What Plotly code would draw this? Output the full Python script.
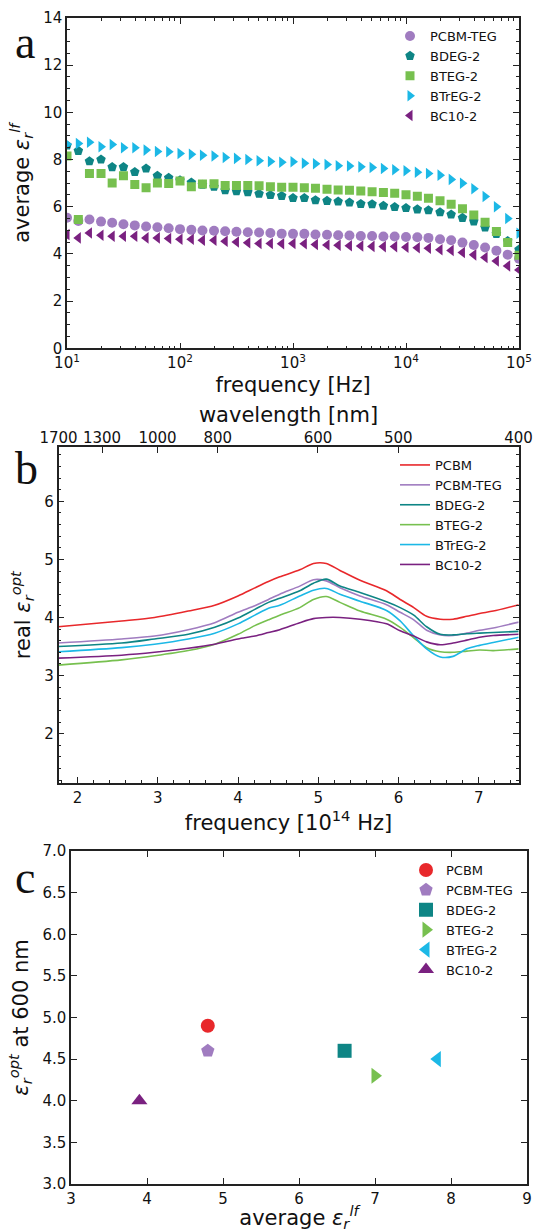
import plotly.graph_objects as go

W, H = 534, 1232

# ---------------- Panel a data ----------------
freq_hz = [10, 12.6, 15.8, 20.0, 25.1, 31.6, 39.8, 50.1, 63.1, 79.4,
           100, 126, 158, 200, 251, 316, 398, 501, 631, 794,
           1000, 1260, 1580, 2000, 2510, 3160, 3980, 5010, 6310, 7940,
           10000, 12600, 15800, 20000, 25100, 31600, 39800, 50100, 63100, 79400, 100000]

lf_pcbm_teg = [5.53, 5.40, 5.46, 5.37, 5.32, 5.26, 5.21, 5.16, 5.13, 5.09,
               5.05, 5.02, 4.99, 4.98, 4.96, 4.94, 4.92, 4.91, 4.89, 4.86,
               4.85, 4.85, 4.82, 4.81, 4.79, 4.78, 4.76, 4.76, 4.74, 4.74,
               4.72, 4.71, 4.68, 4.62, 4.58, 4.48, 4.38, 4.27, 4.14, 3.97, 3.80]
lf_bdeg2 = [8.60, 8.37, 7.93, 8.00, 7.68, 7.68, 7.47, 7.62, 7.31, 7.23,
            7.12, 7.03, 6.93, 6.85, 6.70, 6.66, 6.62, 6.55, 6.50, 6.46,
            6.37, 6.37, 6.28, 6.25, 6.22, 6.18, 6.12, 6.11, 6.04, 5.99,
            5.95, 5.89, 5.85, 5.77, 5.67, 5.53, 5.38, 5.12, 4.85, 4.55, 4.19]
lf_bteg2 = [8.15, 5.46, 7.41, 7.41, 7.01, 7.31, 6.94, 6.80, 7.01, 6.98,
            7.09, 6.85, 6.96, 6.97, 6.90, 6.90, 6.90, 6.89, 6.85, 6.83,
            6.83, 6.81, 6.78, 6.74, 6.71, 6.70, 6.67, 6.64, 6.60, 6.57,
            6.51, 6.44, 6.36, 6.25, 6.11, 5.91, 5.65, 5.34, 4.95, 4.48, 3.94]
lf_btreg2 = [8.65, 8.68, 8.73, 8.54, 8.64, 8.50, 8.50, 8.40, 8.34, 8.33,
             8.26, 8.22, 8.18, 8.15, 8.09, 8.05, 8.00, 7.95, 7.92, 7.89,
             7.91, 7.84, 7.82, 7.79, 7.74, 7.73, 7.69, 7.66, 7.62, 7.57,
             7.53, 7.46, 7.41, 7.34, 7.16, 7.00, 6.76, 6.43, 6.00, 5.50, 4.88]
lf_bc10_2 = [4.82, 4.68, 4.89, 4.79, 4.75, 4.75, 4.75, 4.68, 4.68, 4.65,
             4.62, 4.62, 4.58, 4.58, 4.54, 4.51, 4.47, 4.44, 4.44, 4.43,
             4.44, 4.43, 4.40, 4.38, 4.37, 4.35, 4.34, 4.32, 4.31, 4.31,
             4.28, 4.26, 4.24, 4.18, 4.15, 4.06, 3.96, 3.85, 3.70, 3.49, 3.32]

a_minor_ticks = [2, 3, 4, 5, 6, 7, 8, 9, 20, 30, 40, 50, 60, 70, 80, 90,
                 200, 300, 400, 500, 600, 700, 800, 900,
                 2000, 3000, 4000, 5000, 6000, 7000, 8000, 9000,
                 20000, 30000, 40000, 50000, 60000, 70000, 80000, 90000]
a_major_ticks = [10, 100, 1000, 10000, 100000]
a_major_text = ["10<sup>1</sup>", "10<sup>2</sup>", "10<sup>3</sup>", "10<sup>4</sup>", "10<sup>5</sup>"]

# ---------------- Panel b data ----------------
freq_opt = [1.76, 2.55, 2.96, 3.38, 3.71, 4.00, 4.21, 4.38, 4.52, 4.77, 4.94, 5.10,
            5.27, 5.52, 5.85, 6.02, 6.19, 6.35, 6.52, 6.68, 6.85, 7.01, 7.18, 7.50]
opt_pcbm = [3.84, 3.94, 4.00, 4.11, 4.21, 4.37, 4.51, 4.62, 4.70, 4.82, 4.93, 4.93,
            4.81, 4.64, 4.46, 4.31, 4.17, 4.02, 3.97, 3.97, 4.02, 4.07, 4.11, 4.22]
opt_pcbm_teg = [3.56, 3.63, 3.68, 3.79, 3.91, 4.09, 4.20, 4.31, 4.40, 4.54, 4.65, 4.63,
                4.51, 4.37, 4.22, 4.09, 3.96, 3.78, 3.70, 3.69, 3.73, 3.78, 3.82, 3.92]
opt_bdeg2 = [3.50, 3.56, 3.63, 3.71, 3.83, 3.99, 4.14, 4.26, 4.33, 4.46, 4.59, 4.66,
             4.54, 4.43, 4.27, 4.17, 4.04, 3.84, 3.71, 3.70, 3.72, 3.73, 3.74, 3.76]
opt_bteg2 = [3.18, 3.27, 3.34, 3.43, 3.54, 3.71, 3.86, 3.96, 4.04, 4.17, 4.31, 4.36,
             4.26, 4.11, 3.97, 3.83, 3.65, 3.48, 3.41, 3.40, 3.42, 3.44, 3.43, 3.46]
opt_btreg2 = [3.41, 3.48, 3.54, 3.63, 3.73, 3.89, 4.04, 4.16, 4.21, 4.37, 4.47, 4.50,
              4.40, 4.28, 4.12, 3.94, 3.68, 3.46, 3.32, 3.33, 3.46, 3.52, 3.57, 3.66]
opt_bc10_2 = [3.30, 3.35, 3.40, 3.47, 3.54, 3.63, 3.68, 3.74, 3.79, 3.91, 3.98, 4.00,
              4.00, 3.97, 3.89, 3.77, 3.68, 3.58, 3.53, 3.56, 3.61, 3.66, 3.69, 3.71]
wl_ticks_nm = [1700, 1300, 1000, 800, 600, 500, 400]
C_NM = 2997.92458  # c in nm * 1e14 Hz

# ---------------- Panel c data ----------------
c_names = ["PCBM", "PCBM-TEG", "BDEG-2", "BTEG-2", "BTrEG-2", "BC10-2"]
c_avg_lf = [4.8, 4.8, 6.6, 7.0, 7.82, 3.9]
c_opt600 = [4.9, 4.6, 4.6, 4.3, 4.5, 4.0]

COL = {"PCBM": "#e8282b", "PCBM-TEG": "#a07cc0", "BDEG-2": "#0e8585",
       "BTEG-2": "#77c04f", "BTrEG-2": "#1cb8e6", "BC10-2": "#7a2180"}

def px(x):
    return x / W

def py(y):
    return 1 - y / H

fig = go.Figure()

# panel a
a_series = [("PCBM-TEG", lf_pcbm_teg, "circle", 10),
            ("BDEG-2", lf_bdeg2, "pentagon", 10),
            ("BTEG-2", lf_bteg2, "square", 9),
            ("BTrEG-2", lf_btreg2, "triangle-right", 10),
            ("BC10-2", lf_bc10_2, "triangle-left", 10)]
for name, vals, sym, sz in a_series:
    fig.add_trace(go.Scatter(x=freq_hz, y=vals, mode="markers", name=name,
                             marker=dict(symbol=sym, size=sz, color=COL[name], line=dict(width=0)),
                             xaxis="x", yaxis="y", legend="legend"))

# panel b
b_series = [("PCBM", opt_pcbm), ("PCBM-TEG", opt_pcbm_teg), ("BDEG-2", opt_bdeg2),
            ("BTEG-2", opt_bteg2), ("BTrEG-2", opt_btreg2), ("BC10-2", opt_bc10_2)]
for name, vals in b_series:
    fig.add_trace(go.Scatter(x=freq_opt, y=vals, mode="lines", name=name,
                             line=dict(color=COL[name], width=1.6, shape="spline", smoothing=0.8),
                             xaxis="x2", yaxis="y2", legend="legend2"))
fig.add_trace(go.Scatter(x=[], y=[], xaxis="x4", yaxis="y2", showlegend=False))

# panel c
c_symbols = ["circle", "pentagon", "square", "triangle-right", "triangle-left", "triangle-up"]
for i, name in enumerate(c_names):
    fig.add_trace(go.Scatter(x=[c_avg_lf[i]], y=[c_opt600[i]], mode="markers", name=name,
                             marker=dict(symbol=c_symbols[i], size=14, color=COL[name], line=dict(width=0)),
                             xaxis="x3", yaxis="y3", legend="legend3"))

TF = dict(family="DejaVu Sans", size=15, color="#111")
TT = dict(family="DejaVu Sans", size=21, color="#111")
common = dict(showline=True, linecolor="#222", linewidth=1.5, ticks="inside", automargin=False,
              tickcolor="#222", tickwidth=1.2, ticklen=6, showgrid=False, zeroline=False,
              tickfont=TF, title_font=TT)
LEGF = dict(family="DejaVu Sans", size=13, color="#111")

eps = "<i>ε</i>"
fig.update_layout(
    width=W, height=H, margin=dict(l=0, r=0, t=0, b=0, autoexpand=False),
    paper_bgcolor="white", plot_bgcolor="white",
    xaxis=dict(common, type="log", range=[1, 5], domain=[px(67), px(519)], anchor="y",
               mirror="ticks", tickmode="array", tickvals=a_major_ticks, ticktext=a_major_text,
               minor=dict(ticks="inside", ticklen=3, tickcolor="#222", tickmode="array", tickvals=a_minor_ticks),
               title=dict(text="frequency [Hz]", standoff=6)),
    yaxis=dict(common, range=[0, 14], domain=[py(348.3), py(18)], anchor="x", mirror="ticks",
               dtick=2, minor=dict(ticks="inside", ticklen=3, tickcolor="#222", dtick=0.5),
               title=dict(text="average " + eps + "<sub><i>r</i></sub><sup><i>lf</i></sup>", standoff=8)),
    xaxis2=dict(common, range=[C_NM / 1700, C_NM / 400], domain=[px(58.5), px(518.5)], anchor="y2",
                dtick=1, tick0=0, minor=dict(ticks="inside", ticklen=3, tickcolor="#222", dtick=0.2),
                title=dict(text="frequency [10<sup>14</sup> Hz]", standoff=6)),
    xaxis4=dict(common, range=[C_NM / 1700, C_NM / 400], overlaying="x2", side="top", anchor="y2",
                tickmode="array", tickvals=[C_NM / w for w in wl_ticks_nm],
                ticktext=[str(w) for w in wl_ticks_nm], ticklabelstandoff=-3,
                title=dict(text="wavelength [nm]", standoff=0)),
    yaxis2=dict(common, range=[1.15, 6.93], domain=[py(783), py(447.3)], anchor="x2", mirror="ticks",
                tickmode="array", tickvals=[2, 3, 4, 5, 6],
                minor=dict(ticks="inside", ticklen=3, tickcolor="#222", dtick=0.2, tick0=0),
                title=dict(text="real " + eps + "<sub><i>r</i></sub><sup><i>opt</i></sup>", standoff=8)),
    xaxis3=dict(common, range=[3, 9], domain=[px(71), px(527)], anchor="y3", mirror="ticks",
                dtick=1, title=dict(text="average " + eps + "<sub><i>r</i></sub><sup><i>lf</i></sup>", standoff=18)),
    yaxis3=dict(common, range=[3, 7], domain=[py(1184), py(851)], anchor="x3", mirror="ticks",
                dtick=0.5, tickformat=".1f",
                title=dict(text=eps + "<sub><i>r</i></sub><sup><i>opt</i></sup> at 600 nm", standoff=8)),
    legend=dict(x=px(390), y=py(21), xanchor="left", yanchor="top", bgcolor="rgba(0,0,0,0)", font=LEGF),
    legend2=dict(x=px(395), y=py(450), xanchor="left", yanchor="top", bgcolor="rgba(0,0,0,0)", font=LEGF),
    legend3=dict(x=px(406), y=py(855), xanchor="left", yanchor="top", bgcolor="rgba(0,0,0,0)", font=LEGF),
    annotations=[
        dict(text="a", x=px(13), y=py(43), xref="paper", yref="paper", xanchor="left", yanchor="middle",
             showarrow=False, font=dict(family="Liberation Serif", size=46, color="#111")),
        dict(text="b", x=px(13), y=py(469), xref="paper", yref="paper", xanchor="left", yanchor="middle",
             showarrow=False, font=dict(family="Liberation Serif", size=46, color="#111")),
        dict(text="c", x=px(13), y=py(877), xref="paper", yref="paper", xanchor="left", yanchor="middle",
             showarrow=False, font=dict(family="Liberation Serif", size=46, color="#111")),
    ],
)

fig.write_html("out.html", config={"displayModeBar": False},
               post_script="document.body.style.margin='0';document.body.style.overflow='hidden';")
